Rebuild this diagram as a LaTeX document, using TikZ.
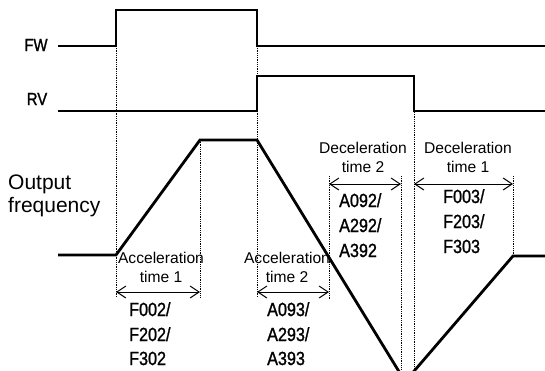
\documentclass[tikz,border=0pt]{standalone}
\usepackage{fontspec}
\setmainfont{Liberation Sans}
\newfontfamily\codefont[FakeStretch=0.85,FakeBold=1.2]{Liberation Sans}
\usetikzlibrary{arrows.meta}
\tikzset{
  sig/.style={line width=2.8pt, line join=miter, line cap=butt},
  guide/.style={line width=0.6pt, dash pattern=on 0.9pt off 0.9pt},
  span/.style={line width=1pt, {Straight Barb[length=9pt,width=12pt]}-{Straight Barb[length=9pt,width=12pt]}},
  lbl/.style={font=\fontsize{15.6}{18}\selectfont, inner sep=0pt, anchor=base},
  code/.style={font=\codefont\fontsize{19}{22}\selectfont, inner sep=0pt, anchor=base west},
  sigl/.style={font=\codefont\fontsize{17.5}{20}\selectfont, inner sep=0pt, anchor=base},
  big/.style={font=\fontsize{21}{24}\selectfont, inner sep=0pt, anchor=base west}
}
\begin{document}
\begin{tikzpicture}[x=1pt,y=-1pt]
\useasboundingbox (0,0) rectangle (545,370);
\clip (0,0) rectangle (545,370);
\fill[white] (0,0) rectangle (545,370);

% signal labels
\node[sigl] (fw) at (36,51) {FW};
\node[sigl] (rv) at (37,105) {RV};
\node[big] (out) at (8,189) {Output};
\node[big] (freq) at (8,212) {frequency};

% guide lines
\draw[guide] (116,46) -- (116,297);
\draw[guide] (200,140) -- (200,297);
\draw[guide] (257,10) -- (257,297);
\draw[guide] (329,176) -- (329,300);
\draw[guide] (401,176) -- (401,370);
\draw[guide] (414,76) -- (414,370);
\draw[guide] (513,176) -- (513,256);

% waveforms
\draw[sig] (58,46) -- (116,46) -- (116,10) -- (257,10) -- (257,46) -- (545,46);
\draw[sig] (58,111) -- (257,111) -- (257,76) -- (414,76) -- (414,111) -- (545,111);
\draw[sig] (58,255) -- (116,255) -- (200,140) -- (257,140) -- (401.1,375);
\draw[sig] (410.7,375) -- (513,256) -- (545,256);

% spans
\coordinate (a1l) at (116,292); \coordinate (a1r) at (200,292);
\coordinate (a2l) at (257,292); \coordinate (a2r) at (329,292);
\coordinate (d2l) at (329,184); \coordinate (d2r) at (401,184);
\coordinate (d1l) at (414,184); \coordinate (d1r) at (513,184);
\draw[span] (a1l) -- (a1r);
\draw[span] (a2l) -- (a2r);
\draw[span] (d2l) -- (d2r);
\draw[span] (d1l) -- (d1r);

% span labels
\node[lbl] (acc1a) at (161,263) {Acceleration};
\node[lbl] (acc1b) at (161,282) {time 1};
\node[lbl] (acc2a) at (287,263) {Acceleration};
\node[lbl] (acc2b) at (287,282) {time 2};
\node[lbl] (dec2a) at (363,153) {Deceleration};
\node[lbl] (dec2b) at (363,172) {time 2};
\node[lbl] (dec1a) at (468,153) {Deceleration};
\node[lbl] (dec1b) at (468,172) {time 1};

% parameter codes
\node[code] (c1) at (129,316) {F002/};
\node[code] (c2) at (129,341) {F202/};
\node[code] (c3) at (129,365) {F302};
\node[code] (c4) at (267,316) {A093/};
\node[code] (c5) at (267,341) {A293/};
\node[code] (c6) at (267,365) {A393};
\node[code] (c7) at (339,207) {A092/};
\node[code] (c8) at (339,232) {A292/};
\node[code] (c9) at (339,257) {A392};
\node[code] (c10) at (443,203) {F003/};
\node[code] (c11) at (443,228) {F203/};
\node[code] (c12) at (443,253) {F303};
\end{tikzpicture}
\end{document}
